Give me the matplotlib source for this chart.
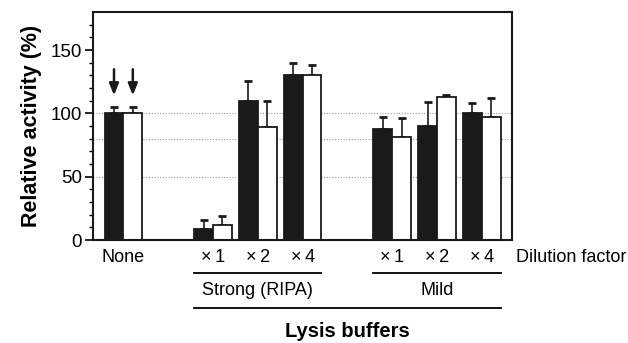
import matplotlib.pyplot as plt
import matplotlib.transforms as mtransforms
import numpy as np

# data
positions = [0, 2, 3, 4, 6, 7, 8]
dilution_labels = ['None', '\u00d7\u20091', '\u00d7\u20092', '\u00d7\u20094',
                   '\u00d7\u20091', '\u00d7\u20092', '\u00d7\u20094']
black_vals = [100, 8.5, 110, 130.5, 88, 90, 100]
black_err = [5, 7, 15.5, 9.5, 9, 19, 8.5]
white_vals = [100, 12, 89, 130.5, 81, 113, 97.5]
white_err = [5, 7, 20.5, 7.5, 15, 1.5, 15]

plt.rcParams['font.family'] = ['Liberation Sans', 'DejaVu Sans']

fig = plt.figure(figsize=(6.28, 3.43), dpi=100)
ax = fig.add_axes([0.148, 0.300, 0.667, 0.665])

w = 0.42
x = np.array(positions, dtype=float)
for yv in [50, 80, 100]:
    ax.axhline(yv, color='#999999', linestyle=(0, (1, 1.5)), linewidth=0.8, zorder=0)

ax.bar(x - w / 2, black_vals, width=w, color='#1a1a1a', edgecolor='#1a1a1a',
       linewidth=1.3, zorder=2)
ax.bar(x + w / 2, white_vals, width=w, color='white', edgecolor='#1a1a1a',
       linewidth=1.3, zorder=2)
ax.errorbar(x - w / 2, black_vals, yerr=[np.zeros(len(x)), black_err], fmt='none',
            ecolor='#1a1a1a', elinewidth=1.2, capsize=3, capthick=2, zorder=1)
ax.errorbar(x + w / 2, white_vals, yerr=[np.zeros(len(x)), white_err], fmt='none',
            ecolor='#1a1a1a', elinewidth=1.2, capsize=3, capthick=2, zorder=1)

# arrows above the "None" bars
for xa in [x[0] - w / 2, x[0] + w / 2]:
    ax.annotate('', xy=(xa, 112), xytext=(xa, 137),
                arrowprops=dict(arrowstyle='-|>,head_width=0.28,head_length=0.7',
                                color='#1a1a1a', lw=1.8))

ax.set_xlim(-0.68, 8.67)
ax.set_ylim(0, 180)
ax.set_yticks([0, 50, 100, 150])
ax.set_yticks(np.arange(0, 180, 10), minor=True)
ax.tick_params(axis='y', which='major', length=6, width=1.2, labelsize=13.5, pad=2)
ax.tick_params(axis='y', which='minor', length=3, width=1)
ax.set_xticks([])
for s in ax.spines.values():
    s.set_linewidth(1.5)
    s.set_color('#1a1a1a')
ax.set_ylabel('Relative activity (%)', fontsize=15.5, fontweight='bold', labelpad=6)

trans = mtransforms.blended_transform_factory(ax.transData, ax.transAxes)
for xp, lab in zip(x, dilution_labels):
    ax.text(xp, -0.075, lab, transform=trans, ha='center', va='center', fontsize=13)
ax.text(1.01, -0.075, 'Dilution factor', transform=ax.transAxes, ha='left',
        va='center', fontsize=13)

ax.plot([2 - w, 4 + w], [-0.145, -0.145], transform=trans, color='black', lw=1.3, clip_on=False)
ax.plot([6 - w, 8 + w], [-0.145, -0.145], transform=trans, color='black', lw=1.3, clip_on=False)
ax.text(3, -0.22, 'Strong (RIPA)', transform=trans, ha='center', va='center', fontsize=13)
ax.text(7, -0.22, 'Mild', transform=trans, ha='center', va='center', fontsize=13)
ax.plot([2 - w, 8 + w], [-0.298, -0.298], transform=trans, color='black', lw=1.3, clip_on=False)
ax.text(5, -0.40, 'Lysis buffers', transform=trans, ha='center', va='center',
        fontsize=14.5, fontweight='bold')

fig.savefig('out.png', dpi=100)
